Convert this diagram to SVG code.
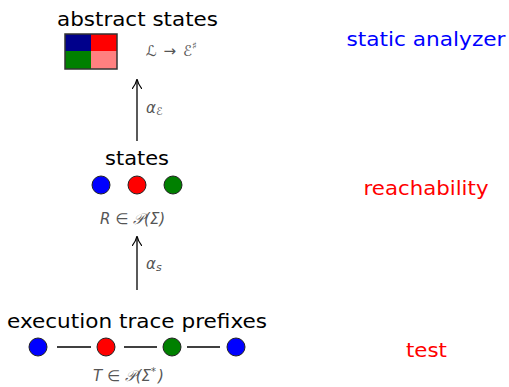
<svg xmlns="http://www.w3.org/2000/svg" width="509" height="387" viewBox="0 0 509 387">
<style>
.t{font-family:"DejaVu Sans","Liberation Sans",sans-serif;font-size:20px;fill:#000;text-anchor:middle}
.m{font-family:"DejaVu Sans","Liberation Sans",sans-serif;font-style:italic;font-size:15px;fill:#555;text-anchor:start}
.c{stroke:#222;stroke-width:1}
.ln{stroke:#000;stroke-width:1.3;fill:none}
</style>
<defs>
<marker id="ah" viewBox="0 0 10 10" refX="9" refY="5" markerWidth="10" markerHeight="10" markerUnits="userSpaceOnUse" orient="auto">
<path d="M0,0 Q5,4 10,5 Q5,6 0,10" fill="none" stroke="#000" stroke-width="1.2"/>
</marker>
</defs>
<rect width="509" height="387" fill="#fff"/>
<g id="abstract">
<text class="t" x="137.5" y="26" textLength="161" lengthAdjust="spacingAndGlyphs">abstract states</text>
<rect x="65" y="34" width="26" height="17" fill="#00008b"/>
<rect x="91" y="34" width="26" height="17" fill="#ff0000"/>
<rect x="65" y="51" width="26" height="18" fill="#008000"/>
<rect x="91" y="51" width="26" height="18" fill="#ff8080"/>
<rect x="65" y="34" width="52" height="35" fill="none" stroke="#333" stroke-width="1.5"/>
<text class="m" x="146" y="56">ℒ <tspan dx="2">→</tspan> <tspan dx="2">ℰ</tspan><tspan font-size="10" dy="-7">♯</tspan></text>
</g>
<g id="states">
<text class="t" x="137" y="165" textLength="64" lengthAdjust="spacingAndGlyphs">states</text>
<circle class="c" cx="101" cy="185" r="9" fill="#0000ff"/>
<circle class="c" cx="137" cy="185" r="9" fill="#ff0000"/>
<circle class="c" cx="173" cy="185" r="9" fill="#008000"/>
<text class="m" x="100" y="224">R ∈ 𝒫(Σ)</text>
</g>
<g id="traces">
<text class="t" x="137" y="328" textLength="260" lengthAdjust="spacingAndGlyphs">execution trace prefixes</text>
<circle class="c" cx="38" cy="347" r="9" fill="#0000ff"/>
<circle class="c" cx="106" cy="347" r="9" fill="#ff0000"/>
<circle class="c" cx="172" cy="347" r="9" fill="#008000"/>
<circle class="c" cx="236" cy="347" r="9" fill="#0000ff"/>
<line class="ln" x1="57" y1="347" x2="91" y2="347"/>
<line class="ln" x1="124" y1="347" x2="157" y2="347"/>
<line class="ln" x1="187" y1="347" x2="220" y2="347"/>
<text class="m" x="93" y="381">T ∈ 𝒫(Σ<tspan font-size="10" dy="-6">*</tspan><tspan dy="6" dx="2">)</tspan></text>
</g>
<g id="connectors">
<line class="ln" x1="137" y1="141" x2="137" y2="80" marker-end="url(#ah)"/>
<text class="m" x="146" y="113">α<tspan font-size="11" dy="2">ℰ</tspan></text>
<line class="ln" x1="137" y1="290" x2="137" y2="237" marker-end="url(#ah)"/>
<text class="m" x="146" y="269">α<tspan font-size="11" dy="2">s</tspan></text>
</g>
<g id="labels">
<text class="t" x="426" y="46" textLength="159" lengthAdjust="spacingAndGlyphs" style="fill:#0000ff">static analyzer</text>
<text class="t" x="426" y="195" textLength="125" lengthAdjust="spacingAndGlyphs" style="fill:#ff0000">reachability</text>
<text class="t" x="426.5" y="357" textLength="41" lengthAdjust="spacingAndGlyphs" style="fill:#ff0000">test</text>
</g>
</svg>
